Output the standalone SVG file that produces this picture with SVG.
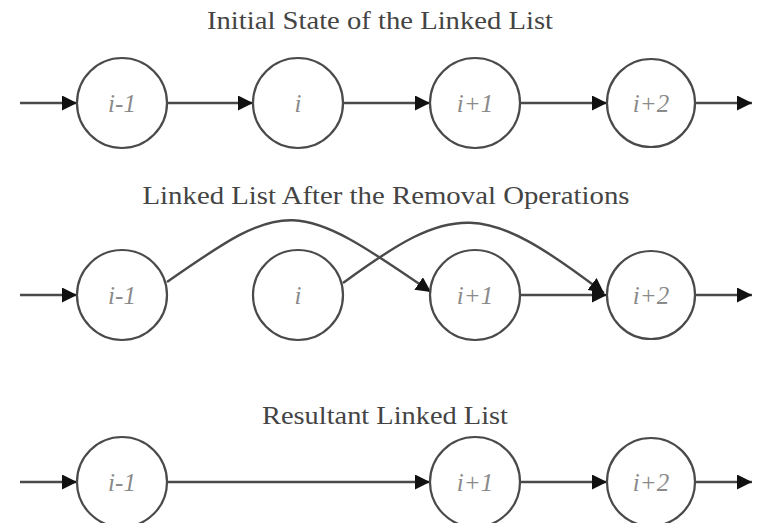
<svg xmlns="http://www.w3.org/2000/svg" width="759" height="523" viewBox="0 0 759 523">
  <style>
    .title { font-family: "Liberation Serif", "Times New Roman", serif; font-size: 25px; fill: #444; text-anchor: middle; }
    .node circle { fill: #fff; stroke: #4a4a4a; stroke-width: 2.2; }
    .node text { font-family: "Liberation Serif", "Times New Roman", serif; font-style: italic; font-size: 25px; fill: #8a8a8a; text-anchor: middle; dominant-baseline: central; }
    .edge { fill: none; stroke: #4a4a4a; stroke-width: 2.4; marker-end: url(#arrow); }
  </style>
  <defs>
    <marker id="arrow" viewBox="0 0 10 10" refX="10" refY="5" markerUnits="userSpaceOnUse" markerWidth="15" markerHeight="15" orient="auto">
      <path d="M0,0 L10,5 L0,10 Z" fill="#111"/>
    </marker>
  </defs>
  <rect width="759" height="523" fill="#fff"/>

  <text class="title" x="380" y="29" textLength="346" lengthAdjust="spacingAndGlyphs">Initial State of the Linked List</text>
  <text class="title" x="386" y="204" textLength="487" lengthAdjust="spacingAndGlyphs">Linked List After the Removal Operations</text>
  <text class="title" x="385" y="424" textLength="246" lengthAdjust="spacingAndGlyphs">Resultant Linked List</text>

  <g id="connectors">
    <!-- initial list -->
    <path class="edge" d="M20,103 H77"/>
    <path class="edge" d="M167,103 H253"/>
    <path class="edge" d="M343,103 H430"/>
    <path class="edge" d="M520,103 H607"/>
    <path class="edge" d="M695,103 H752"/>
    <!-- after removal -->
    <path class="edge" d="M20,295 H77"/>
    <path class="edge" d="M167,282 C287,198 295,198 431,292"/>
    <path class="edge" d="M343,283 C455,201 483,201 604,293"/>
    <path class="edge" d="M520,295 H607"/>
    <path class="edge" d="M695,295 H752"/>
    <!-- resultant list -->
    <path class="edge" d="M20,482 H77"/>
    <path class="edge" d="M167,482 H430"/>
    <path class="edge" d="M520,482 H607"/>
    <path class="edge" d="M695,482 H752"/>
  </g>

  <g id="n1-prev" class="node"><circle cx="122" cy="103" r="45"/><text x="122" y="103">i-1</text></g>
  <g id="n1-cur" class="node"><circle cx="298" cy="103" r="45"/><text x="298" y="103">i</text></g>
  <g id="n1-next" class="node"><circle cx="475" cy="103" r="45"/><text x="475" y="103">i+1</text></g>
  <g id="n1-next2" class="node"><circle cx="651" cy="103" r="44"/><text x="651" y="103">i+2</text></g>

  <g id="n2-prev" class="node"><circle cx="122" cy="295" r="45"/><text x="122" y="295">i-1</text></g>
  <g id="n2-cur" class="node"><circle cx="298" cy="295" r="45"/><text x="298" y="295">i</text></g>
  <g id="n2-next" class="node"><circle cx="475" cy="295" r="45"/><text x="475" y="295">i+1</text></g>
  <g id="n2-next2" class="node"><circle cx="651" cy="295" r="44"/><text x="651" y="295">i+2</text></g>

  <g id="n3-prev" class="node"><circle cx="122" cy="482" r="45"/><text x="122" y="482">i-1</text></g>
  <g id="n3-next" class="node"><circle cx="475" cy="482" r="45"/><text x="475" y="482">i+1</text></g>
  <g id="n3-next2" class="node"><circle cx="651" cy="482" r="44"/><text x="651" y="482">i+2</text></g>
</svg>
